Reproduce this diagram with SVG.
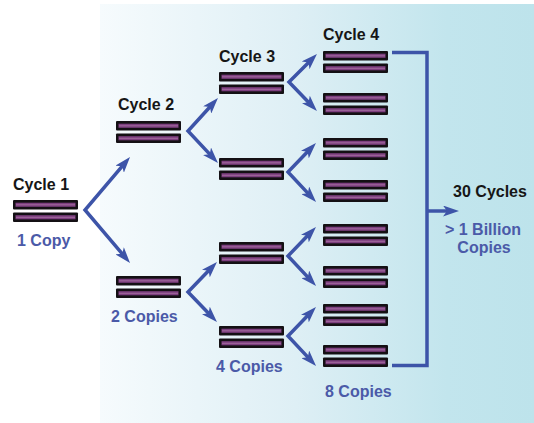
<svg xmlns="http://www.w3.org/2000/svg" width="534" height="423" viewBox="0 0 534 423">
<style>
.t{font-family:"Liberation Sans",Arial,sans-serif;font-weight:bold;font-size:16px}
.k{fill:#161616}
.b{fill:#4b5aa8}
.c{fill:none;stroke:#3d54a8;stroke-width:3.5;stroke-linejoin:miter}
</style>
<defs>
<linearGradient id="bg" x1="100" y1="0" x2="534" y2="0" gradientUnits="userSpaceOnUse">
<stop offset="0" stop-color="#f6fbfd"/>
<stop offset="0.45" stop-color="#deeff5"/>
<stop offset="0.8" stop-color="#c2e5ed"/>
<stop offset="1" stop-color="#bde3eb"/>
</linearGradient>
<g id="bar">
<rect x="0" y="0" width="65" height="9.5" rx="1" fill="#141014"/>
<rect x="2.5" y="2.7" width="60" height="4.1" fill="#7e3f80"/>
<rect x="3" y="4.3" width="59" height="1" fill="#a06a9c"/>
</g>
<g id="pair">
<use href="#bar"/>
<use href="#bar" y="12.5"/>
</g>
<marker id="ah" viewBox="0 0 16 11" refX="7" refY="5.5" markerWidth="16" markerHeight="11" markerUnits="userSpaceOnUse" orient="auto-start-reverse">
<path d="M0,0 L16,5.5 L0,11 L4,5.5 z" fill="#3d54a8"/>
</marker>
</defs>
<rect width="534" height="423" fill="#ffffff"/>
<rect x="100" y="4" width="434" height="419" fill="url(#bg)"/>

<g id="connectors">
<path class="c" d="M124.2,163.9 L85,210 L124.2,256.1" marker-start="url(#ah)" marker-end="url(#ah)"/>
<path class="c" d="M211.9,104.7 L188,131 L211.8,156.4" marker-start="url(#ah)" marker-end="url(#ah)"/>
<path class="c" d="M210.7,268.5 L188,292 L210.7,315.5" marker-start="url(#ah)" marker-end="url(#ah)"/>
<path class="c" d="M310.6,60.4 L289,82 L310.7,104.5" marker-start="url(#ah)" marker-end="url(#ah)"/>
<path class="c" d="M309.7,149.5 L288,172 L309.9,195.4" marker-start="url(#ah)" marker-end="url(#ah)"/>
<path class="c" d="M309.7,233.5 L288,256 L309.9,279.4" marker-start="url(#ah)" marker-end="url(#ah)"/>
<path class="c" d="M309.7,313.5 L288,336 L309.9,359.4" marker-start="url(#ah)" marker-end="url(#ah)"/>
<path class="c" d="M392,52.5 L427,52.5 L427,365.5 L392,365.5"/>
<path class="c" d="M427,211 L450,211" marker-end="url(#ah)"/>
</g>

<g id="cycle1">
<text class="t k" x="13" y="190">Cycle 1</text>
<use href="#pair" x="13" y="200"/>
<text class="t b" x="17" y="246">1 Copy</text>
</g>
<g id="cycle2">
<text class="t k" x="118" y="110">Cycle 2</text>
<use href="#pair" x="116" y="121"/>
<use href="#pair" x="116" y="276"/>
<text class="t b" x="111" y="322">2 Copies</text>
</g>
<g id="cycle3">
<text class="t k" x="219" y="62">Cycle 3</text>
<use href="#pair" x="219" y="72"/>
<use href="#pair" x="219" y="158"/>
<use href="#pair" x="219" y="242"/>
<use href="#pair" x="219" y="326"/>
<text class="t b" x="216" y="372">4 Copies</text>
</g>
<g id="cycle4">
<text class="t k" x="323" y="40">Cycle 4</text>
<use href="#pair" x="323" y="51"/>
<use href="#pair" x="323" y="93"/>
<use href="#pair" x="323" y="138"/>
<use href="#pair" x="323" y="180"/>
<use href="#pair" x="323" y="224"/>
<use href="#pair" x="323" y="266"/>
<use href="#pair" x="323" y="304"/>
<use href="#pair" x="323" y="345"/>
<text class="t b" x="325" y="397">8 Copies</text>
</g>
<g id="result">
<text class="t k" x="490" y="197" text-anchor="middle">30 Cycles</text>
<text class="t b" x="483" y="235" text-anchor="middle">&gt; 1 Billion</text>
<text class="t b" x="484" y="253" text-anchor="middle">Copies</text>
</g>
</svg>
